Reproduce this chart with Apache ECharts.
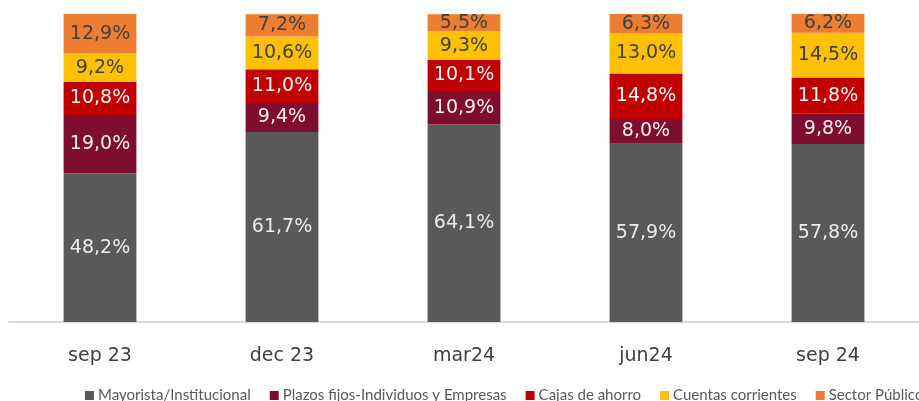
<!DOCTYPE html>
<html>
<head>
<meta charset="utf-8">
<script src="https://cdn.jsdelivr.net/npm/echarts@6/dist/echarts.min.js"></script>
<style>
  html, body { margin: 0; padding: 0; background: #fff; }
  #chart { width: 919px; height: 401px; }
</style>
</head>
<body>
<div id="chart"></div>
<script>
// periodos
var categories = ["sep 23", "dec 23", "mar24", "jun24", "sep 24"];

// participación por fuente de fondeo (%)
var mayorista = [48.2, 61.7, 64.1, 57.9, 57.8];
var plazosFijos = [19.0, 9.4, 10.9, 8.0, 9.8];
var cajasAhorro = [10.8, 11.0, 10.1, 14.8, 11.8];
var cuentasCorrientes = [9.2, 10.6, 9.3, 13.0, 14.5];
var sectorPublico = [12.9, 7.2, 5.5, 6.3, 6.2];

var seriesDefs = [
  { name: "Mayorista/Institucional", data: mayorista, color: "#595959", text: "#ececec" },
  { name: "Plazos fijos-Individuos y Empresas", data: plazosFijos, color: "#7f0d2f", text: "#f2f2f2" },
  { name: "Cajas de ahorro", data: cajasAhorro, color: "#c00000", text: "#f2f2f2" },
  { name: "Cuentas corrientes", data: cuentasCorrientes, color: "#ffc000", text: "#404040" },
  { name: "Sector Público", data: sectorPublico, color: "#ed7d31", text: "#404040" }
];

var chart = echarts.init(document.getElementById("chart"));

var option = {
  animation: false,
  grid: { left: 9, right: -11, top: 14, bottom: 79 },
  legend: {
    left: 80,
    top: 383,
    width: 1400,
    itemWidth: 9,
    itemHeight: 9,
    itemGap: 19,
    icon: "rect",
    textStyle: {
      fontFamily: "Lato, sans-serif",
      fontSize: 15,
      color: "#595959",
      padding: [0, 0, 0, -1]
    },
    data: seriesDefs.map(function (s) { return s.name; })
  },
  xAxis: {
    type: "category",
    data: categories,
    axisLine: { lineStyle: { color: "#d9d9d9", width: 2 } },
    axisTick: { show: false },
    axisLabel: {
      margin: 25,
      fontFamily: "DejaVu Sans, Verdana, sans-serif",
      fontSize: 19,
      color: "#404040"
    }
  },
  yAxis: {
    type: "value",
    min: 0,
    max: 100,
    show: false,
    splitLine: { show: false }
  },
  series: seriesDefs.map(function (s) {
    return {
      name: s.name,
      type: "bar",
      stack: "total",
      barWidth: "40%",
      data: s.data,
      itemStyle: { color: s.color },
      label: {
        show: true,
        position: "inside",
        fontFamily: "DejaVu Sans, Verdana, sans-serif",
        fontSize: 19,
        color: s.text,
        formatter: function (p) {
          return p.value.toFixed(1).replace(".", ",") + "%";
        }
      }
    };
  })
};

chart.setOption(option);
</script>
</body>
</html>
